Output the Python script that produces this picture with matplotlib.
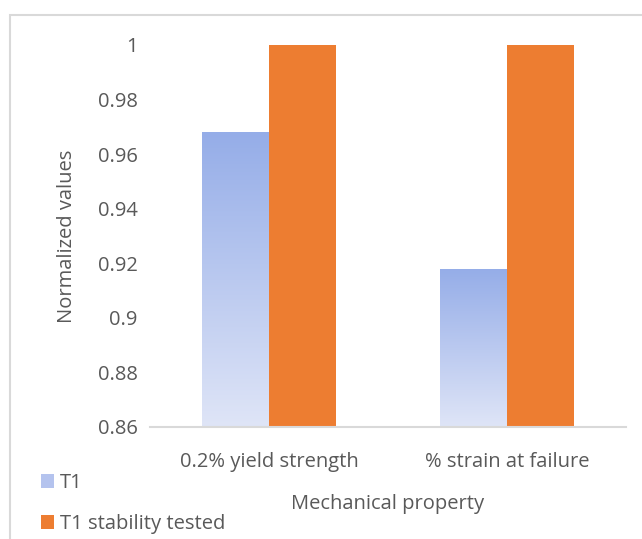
import numpy as np
import matplotlib.pyplot as plt
import matplotlib.patches as mpatches
from matplotlib.colors import LinearSegmentedColormap

# Dados
categorias = ['0.2% yield strength', '% strain at failure']
t1 = [0.968, 0.918]
t1_estab = [1.0, 1.0]
series = ['T1', 'T1 stability tested']
yticks = [0.86, 0.88, 0.9, 0.92, 0.94, 0.96, 0.98, 1.0]

plt.rcParams['font.family'] = ['Open Sans', 'DejaVu Sans']
cinza = '#595959'
fs = 14.5

fig = plt.figure(figsize=(6.42, 5.39), dpi=100)
ax = fig.add_axes([150/642, 112/539, 476/642, 382/539])

# Borda do gráfico (cortada à direita e embaixo)
borda = mpatches.Rectangle((10.5/642, -0.1), 1.2, (539-15.5)/539 + 0.1,
                           transform=fig.transFigure, fill=False,
                           edgecolor='#D9D9D9', linewidth=1.5, zorder=0)
fig.patches.append(borda)

x = np.arange(len(categorias))
w = 0.28
b1 = ax.bar(x - w/2, t1, w, color='#B4C3EE', label=series[0], zorder=2)
b2 = ax.bar(x + w/2, t1_estab, w, color='#ED7D31', label=series[1], zorder=2)

ymin, ymax = 0.86, 1.0

# Gradiente nas barras azuis
cmap = LinearSegmentedColormap.from_list('azul', ['#DFE5F7', '#95ADE8'])
grad = np.linspace(0, 1, 256).reshape(-1, 1)
for barra in b1:
    bx, bw, h = barra.get_x(), barra.get_width(), barra.get_height()
    barra.set_facecolor('none')
    im = ax.imshow(grad, cmap=cmap, origin='lower', aspect='auto',
                   extent=(bx, bx + bw, ymin, h), zorder=2.5)
    im.set_clip_path(barra)
ax.set_ylim(ymin, ymax)
ax.set_xlim(-0.5, 1.5)

# Eixos
for lado in ['top', 'right', 'left']:
    ax.spines[lado].set_visible(False)
ax.spines['bottom'].set_color('#D9D9D9')
ax.spines['bottom'].set_linewidth(1.5)
ax.set_yticks(yticks)
ax.set_yticklabels([f'{v:g}' for v in yticks])
ax.set_xticks(x)
ax.set_xticklabels(categorias)
ax.tick_params(axis='both', length=0, labelsize=fs, colors=cinza)
ax.tick_params(axis='y', pad=9)
ax.tick_params(axis='x', pad=18)
ax.set_ylabel('Normalized values', fontsize=fs, color=cinza, labelpad=15)
ax.set_xlabel('Mechanical property', fontsize=fs, color=cinza, labelpad=16)

# Legenda
h_azul = mpatches.Patch(facecolor='#B4C3EE')
h_lar = mpatches.Patch(facecolor='#ED7D31')
leg = fig.legend([h_azul, h_lar], series, loc='upper left',
                 bbox_to_anchor=(33/642, (539-465)/539), frameon=False,
                 fontsize=fs, handlelength=0.65, handleheight=0.65,
                 handletextpad=0.3, labelspacing=1.05, borderaxespad=0)
for t in leg.get_texts():
    t.set_color(cinza)

fig.savefig('out.png', dpi=100)
